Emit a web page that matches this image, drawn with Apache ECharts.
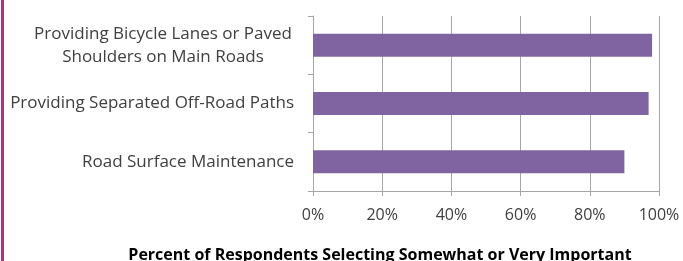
<!DOCTYPE html>
<html>
<head>
<meta charset="utf-8">
<script src="https://cdn.jsdelivr.net/npm/echarts@6/dist/echarts.min.js"></script>
<style>
  html, body { margin: 0; padding: 0; background: #fff; }
  #chart { height: 261px; box-sizing: border-box; border-left: 3px solid #9b3a85; margin-left: 1px; width: 682px; }
</style>
</head>
<body>
<div id="chart"></div>
<script>
// categories, bottom to top as the y axis draws them
const categories = [
  'Road Surface Maintenance',
  'Providing Separated Off-Road Paths',
  'Providing Bicycle Lanes or Paved\nShoulders on Main Roads'
];
const percentImportant = [90, 97, 98];
const xTicks = [0, 20, 40, 60, 80, 100];
const axisTitle = 'Percent of Respondents Selecting Somewhat or Very Important';

const chart = echarts.init(document.getElementById('chart'));

const option = {
  animation: false,
  textStyle: { fontFamily: 'Open Sans' },
  grid: {
    left: 309,
    right: 24,
    top: 16,
    bottom: 70,
    containLabel: false,
    outerBoundsMode: 'none'
  },
  xAxis: {
    type: 'value',
    min: xTicks[0],
    max: xTicks[xTicks.length - 1],
    interval: 20,
    axisLine: { show: true, lineStyle: { color: '#a6a6a6', width: 1 } },
    axisTick: { show: true, length: 5, lineStyle: { color: '#a6a6a6' } },
    splitLine: { show: true, lineStyle: { color: '#a6a6a6', width: 1 } },
    axisLabel: {
      formatter: '{value}%',
      color: '#404040',
      fontSize: 16,
      margin: 16,
      fontFamily: 'Open Sans'
    },
    name: axisTitle,
    nameLocation: 'middle',
    nameGap: 56,
    nameTextStyle: {
      color: '#000',
      fontSize: 16,
      fontWeight: 'bold',
      fontFamily: 'Open Sans',
      padding: [0, 0, 0, -212]
    }
  },
  yAxis: {
    type: 'category',
    data: categories,
    axisLine: { show: true, lineStyle: { color: '#a6a6a6', width: 1 } },
    axisTick: { show: true, length: 5, lineStyle: { color: '#a6a6a6' } },
    axisLabel: {
      color: '#404040',
      fontSize: 17,
      margin: 19,
      fontFamily: 'Open Sans',
      formatter: function (v) {
        if (v.indexOf('\n') < 0) return v;
        return v.split('\n').map(function (s) { return '{c|' + s + '}'; }).join('\n');
      },
      rich: {
        c: {
          width: 262,
          align: 'center',
          lineHeight: 23,
          fontSize: 17,
          color: '#404040',
          fontFamily: 'Open Sans'
        }
      }
    }
  },
  series: [
    {
      type: 'bar',
      data: percentImportant,
      barWidth: 23,
      itemStyle: { color: '#8064a2' }
    }
  ]
};

chart.setOption(option);
</script>
</body>
</html>
